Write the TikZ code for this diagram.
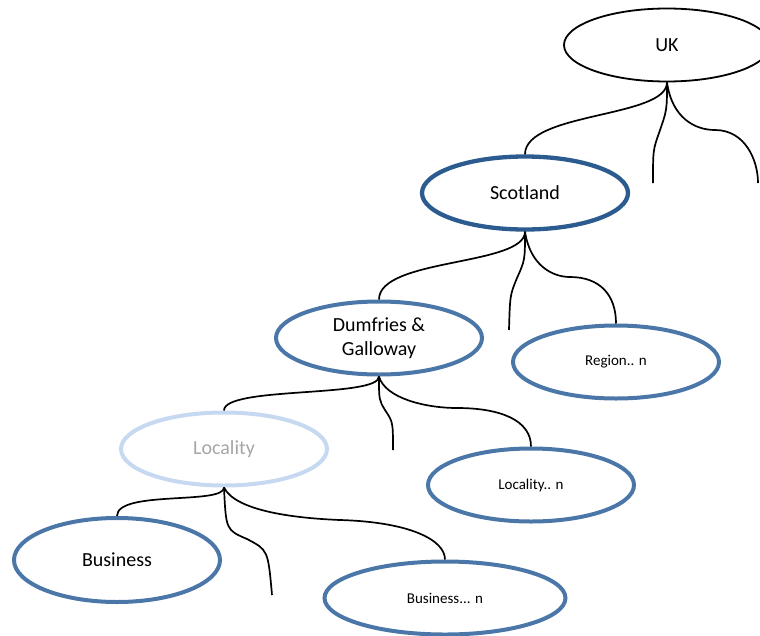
\documentclass[tikz,border=0pt]{standalone}
\usepackage{fontspec}
\setmainfont{Carlito}
\usetikzlibrary{shapes.geometric}
\definecolor{darkblue}{HTML}{2C5C8F}
\definecolor{midblue}{HTML}{4A76A8}
\definecolor{paleblue}{HTML}{C6D9F0}
\definecolor{palegrey}{HTML}{A6A6A6}

\begin{document}
\begin{tikzpicture}[x=1pt,y=-1pt]
        \tikzstyle{every node}+=[inner sep=0pt]
        \tikzstyle{place}=[ellipse, draw, minimum width=206, minimum height=73, align=center, font=\fontsize{20}{24}\selectfont]
        \tikzstyle{smallplace}=[place, font=\fontsize{15}{18}\selectfont]
        \tikzstyle{link}=[black, line width=1.7]
        \useasboundingbox (0,0) rectangle (760,635);
        % nodes
        \node [place, line width=1.8, black] (uk) at (667,45) {UK};
        \node [place, line width=4.3, darkblue, text=black] (scot) at (525,193) {Scotland};
        \node [place, line width=4, midblue, text=black] (dg) at (379,338) {Dumfries \&\\Galloway};
        \node [smallplace, line width=4, midblue, text=black] (region) at (616,362) {Region.. n};
        \node [place, line width=4, paleblue, text=palegrey] (loc) at (224,449) {Locality};
        \node [smallplace, line width=4, midblue, text=black] (locn) at (531,485) {Locality.. n};
        \node [place, line width=4, midblue, text=black, minimum height=84] (bus) at (117,560) {Business};
        \node [smallplace, line width=4, midblue, text=black, minimum width=241] (busn) at (445,598) {Business... n};
        % loose ends
        \coordinate (ukstub) at (653,183);
        \coordinate (ukright) at (758,183);
        \coordinate (scotstub) at (509,330);
        \coordinate (dgstub) at (393,450);
        \coordinate (locstub) at (272,595);
        % UK
        \draw [link] (uk.south) .. controls (667,118) and (525,112) .. (scot.north);
        \draw [link] (uk.south) .. controls (667,110) .. (659,133) .. controls (653,150) .. (ukstub);
        \draw [link] (uk.south) .. controls (672,118) and (695,130) .. (715,130) .. controls (745,130) and (758,160) .. (ukright);
        % Scotland
        \draw [link] (scot.south) .. controls (525,266) and (379,258) .. (dg.north);
        \draw [link] (scot.south) .. controls (525,260) .. (517,278) .. controls (510,295) .. (scotstub);
        \draw [link] (scot.south) .. controls (530,265) and (552,277) .. (570,277) .. controls (600,277) and (616,295) .. (region.north);
        % Dumfries and Galloway
        \draw [link] (dg.south) .. controls (379,398) and (224,386) .. (loc.north);
        \draw [link] (dg.south) .. controls (379,400) .. (385,410) .. controls (393,422) .. (dgstub);
        \draw [link] (dg.south) .. controls (385,398) and (425,408) .. (457,408) .. controls (500,408) and (531,420) .. (locn.north);
        % Locality
        \draw [link] (loc.south) .. controls (224,505) and (117,490) .. (bus.north);
        \draw [link] (loc.south) .. controls (226,530) .. (247,539) .. controls (268,550) .. (locstub);
        \draw [link] (loc.south) .. controls (235,510) and (290,518) .. (340,520) .. controls (410,522) and (445,540) .. (busn.north);
\end{tikzpicture}
\end{document}
